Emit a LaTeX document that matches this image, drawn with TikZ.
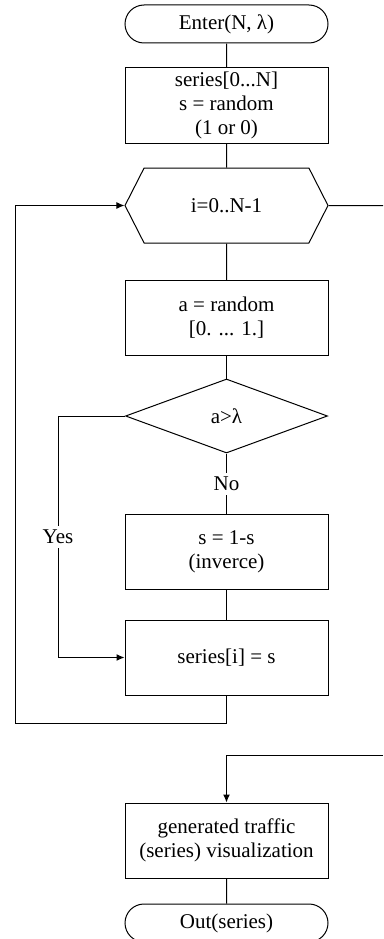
\documentclass[tikz,border=0pt]{standalone}
\usepackage{fontspec}
\setmainfont{Liberation Serif}
\usepackage{tikz}
\usetikzlibrary{shapes.geometric,shapes.misc,shapes.symbols,arrows.meta}

\begin{document}
\begin{tikzpicture}[x=1pt,y=-1pt,line width=1pt,
        every node/.style={font=\fontsize{21}{24}\selectfont,align=center},
        term/.style={draw,rounded rectangle,minimum width=203pt,minimum height=38pt,inner sep=0pt},
        proc/.style={draw,rectangle,minimum width=203pt,minimum height=75pt,inner sep=0pt},
        loophex/.style={draw,signal,signal to=west and east,signal pointer angle=126,minimum width=203pt,minimum height=75pt,inner sep=0pt},
        cond/.style={draw,diamond,minimum width=202pt,minimum height=74pt,inner sep=0pt},
        lbl/.style={inner sep=4pt},
        arr/.style={-{Latex[length=8pt,width=7pt]}}]
            \useasboundingbox (0,0) rectangle (383,939);
            \clip (0,0) rectangle (383,939);

            \node[term] (enter) at (226.5,24) {Enter(N, λ)};
            \node[proc] (init) at (226.5,105.5) {series[0...N]\\ s = random\\ (1 or 0)};
            \node[loophex] (loop) at (226.5,205.5) {i=0..N-1};
            \node[proc] (rand) at (226.5,318) {a = random\\ {[0. ... 1.]}};
            \node[cond] (cmp) at (226.5,416) {a>λ};
            \node[lbl] (no) at (226.5,484) {No};
            \node[proc] (inv) at (226.5,551.5) {s = 1-s\\ (inverce)};
            \node[proc] (set) at (226.5,657.5) {series[i] = s};
            \node[lbl] (yes) at (58,537) {Yes};
            \node[proc] (vis) at (226.5,840.5) {generated traffic\\ (series) visualization};
            \node[term] (out) at (226.5,923) {Out(series)};

            \coordinate (back) at (15,723);
            \coordinate (rout) at (383,205.5);
            \coordinate (rin) at (383,755);

            \draw[-] (enter) -- (init);
            \draw[-] (init) -- (loop);
            \draw[-] (loop) -- (rand);
            \draw[-] (rand) -- (cmp);
            \draw[-] (cmp) -- (no);
            \draw[-] (no) -- (inv);
            \draw[-] (inv) -- (set);
            \draw[-] (cmp) -| (yes);
            \draw[arr] (yes) |- (set);
            \draw[-] (set) |- (back);
            \draw[arr] (back) |- (loop);
            \draw[-] (loop) -- (rout);
            \draw[arr] (rin) -| (vis);
            \draw[-] (vis) -- (out);
        \end{tikzpicture}
\end{document}
